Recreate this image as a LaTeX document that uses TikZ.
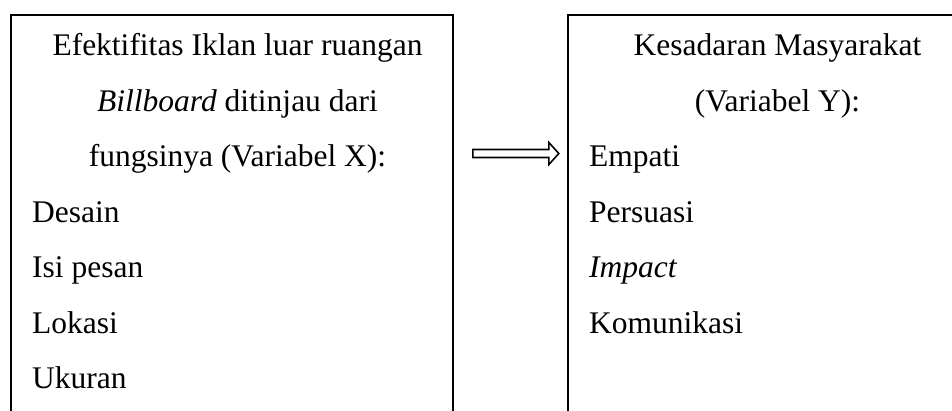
\documentclass[tikz,border=0pt]{standalone}
\usepackage{fontspec}
\setmainfont{Liberation Serif}
\usetikzlibrary{shapes.arrows}
\begin{document}
\begin{tikzpicture}[x=1pt,y=-1pt,
  every node/.style={inner sep=0pt, font=\fontsize{31.5}{38}\selectfont},
  boxline/.style={line width=2pt},
  head/.style={anchor=base},
  item/.style={anchor=base west},
  bigarrow/.style={single arrow, draw, line width=1.6pt, minimum height=86pt,
    single arrow head extend=7pt, single arrow tip angle=96, inner xsep=0pt,
    inner ysep=3.2pt, text height=0pt, text depth=0pt}]
\useasboundingbox (0,0) rectangle (952,410);
% left box (open at bottom)
\coordinate (lbl) at (11,411);
\coordinate (ltl) at (11,15);
\coordinate (ltr) at (453,15);
\coordinate (lbr) at (453,411);
\draw[boxline] (lbl) -- (ltl) -- (ltr) -- (lbr);
% right box (continues past the right edge)
\coordinate (rbl) at (568,411);
\coordinate (rtl) at (568,15);
\coordinate (rtr) at (954,15);
\draw[boxline] (rbl) -- (rtl) -- (rtr);
% left texts
\node[head] (x1) at (237.5,55.5) {Efektifitas Iklan luar ruangan};
\node[head] (x2) at (237.5,111) {\textit{Billboard} ditinjau dari};
\node[head] (x3) at (237.5,166.5) {fungsinya (Variabel X):};
\node[item] (x4) at (32,222) {Desain};
\node[item] (x5) at (32,277.5) {Isi pesan};
\node[item] (x6) at (32,333) {Lokasi};
\node[item] (x7) at (32,388.5) {Ukuran};
% right texts
\node[head] (y1) at (777.5,55.5) {Kesadaran Masyarakat};
\node[head] (y2) at (777.5,111) {(Variabel Y):};
\node[item] (y3) at (589,166.5) {Empati};
\node[item] (y4) at (589,222) {Persuasi};
\node[item] (y5) at (589,277.5) {\textit{Impact}};
\node[item] (y6) at (589,333) {Komunikasi};
% arrow
\node[bigarrow] (arr) at (514,153.5) {};
\end{tikzpicture}
\end{document}
